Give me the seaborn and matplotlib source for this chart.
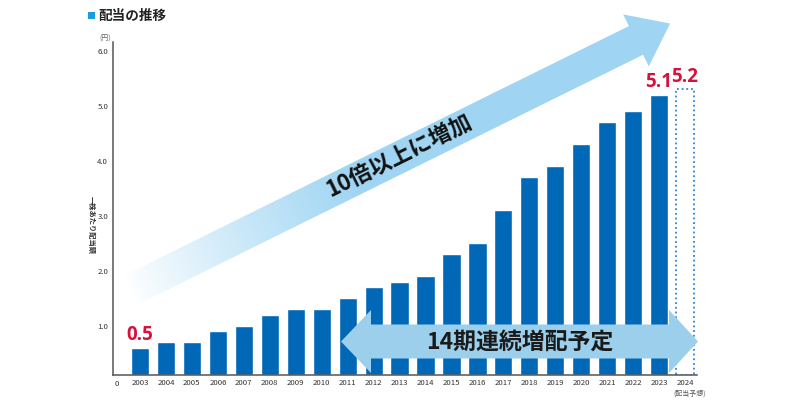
import numpy as np
import pandas as pd
import matplotlib
matplotlib.use("Agg")
import matplotlib.pyplot as plt
import matplotlib.transforms as mtransforms
from matplotlib.patches import Polygon, Rectangle
import seaborn as sns

# ---- data ----
years = [str(y) for y in range(2003, 2025)]
dividends = [0.5, 0.6, 0.6, 0.8, 0.9, 1.1, 1.2, 1.2, 1.4, 1.6, 1.7,
             1.8, 2.2, 2.4, 3.0, 3.6, 3.8, 4.2, 4.6, 4.8, 5.1, 5.2]
ytick_vals = [1, 2, 3, 4, 5, 6]
ytick_labels = ["1.0", "2.0", "3.0", "4.0", "5.0", "6.0"]
highlight = {"2003": "0.5", "2023": "5.1", "2024": "5.2"}
title = "配当の推移"
ylabel = "一株あたり配当額"
unit = "(円)"
forecast_note = "(配当予想)"
growth_text = "10倍以上に増加"
streak_text = "14期連続増配予定"

sns.set_theme(style="white")
plt.rcParams["font.family"] = ["Noto Sans CJK JP", "DejaVu Sans"]

BAR = "#0068b7"
RED = "#d4123b"
ARROW = np.array([0x9f, 0xd5, 0xf3]) / 255.0
ARROW2 = "#9ccfec"

fig = plt.figure(figsize=(8, 4), dpi=100)
ax = fig.add_axes([113 / 800, 25 / 400, (697 - 113) / 800, 332.75 / 400])

df = pd.DataFrame({"year": years, "dividend": dividends})
sns.barplot(data=df, x="year", y="dividend", order=years, color=BAR,
            saturation=1, width=0.7, errorbar=None, ax=ax, zorder=2)
# forecast bar: dotted outline only
last = ax.patches[-1]
last.set_facecolor("none")
last.set_edgecolor("#2f84d2")
last.set_linewidth(1.3)
last.set_linestyle((0, (1, 1.6)))

ax.set_xlim(-1.04, 21.46)
ax.set_ylim(0, 6.05)
ax.set_xlabel("")
ax.set_ylabel("")
for s in ["top", "right"]:
    ax.spines[s].set_visible(False)
for s in ["left", "bottom"]:
    ax.spines[s].set_color("#555555")
    ax.spines[s].set_linewidth(1.1)
ax.set_yticks(ytick_vals)
ax.set_yticklabels(ytick_labels)
ax.tick_params(axis="both", length=0, labelsize=5.6, labelcolor="#333333")
ax.tick_params(axis="y", pad=3.5)
ax.tick_params(axis="x", pad=3.0)
off = mtransforms.ScaledTranslation(0, -0.06, fig.dpi_scale_trans)
for lab in ax.get_yticklabels():
    lab.set_transform(lab.get_transform() + off)

ax.annotate("0", xy=(0, 0), xycoords="axes fraction", xytext=(3, -6.2),
            textcoords="offset points", ha="center", va="center",
            fontsize=5.6, color="#333333")
ax.annotate(forecast_note, xy=(len(years) - 1, 0), xycoords="data",
            xytext=(3, -13.5), textcoords="offset points", ha="center",
            va="center", fontsize=5, color="#555555")
ax.text(-0.0367, 0.45, ylabel, transform=ax.transAxes, rotation=270,
        ha="center", va="center", fontsize=5.2, fontweight="bold",
        color="#333333")
ax.text(-0.0137, 1.011, unit, transform=ax.transAxes, ha="center",
        va="center", fontsize=5, color="#666666")

for yr, txt in highlight.items():
    i = years.index(yr)
    ax.annotate(txt, xy=(i, dividends[i]), xytext=(0, 5.2),
                textcoords="offset points", ha="center", va="baseline",
                fontsize=13.5, fontweight="bold", color=RED,
                family=["Open Sans", "DejaVu Sans"])

# ---- overlay in pixel coordinates for decorations ----
ov = fig.add_axes([0, 0, 1, 1], zorder=5)
ov.set_xlim(0, 800)
ov.set_ylim(400, 0)
ov.axis("off")
ov.patch.set_alpha(0)

# title
ov.add_patch(Rectangle((87.5, 11.5), 7.5, 7.5, color="#1a9ce0", lw=0))
ov.text(98, 15.5, title, ha="left", va="center", fontsize=9.8,
        fontweight="bold", color="#222222")

# diagonal gradient arrow
ang = np.deg2rad(26.3)
u = np.array([np.cos(ang), -np.sin(ang)])
n = np.array([np.sin(ang), np.cos(ang)])
B = np.array([636.0, 40.4])
tip = B + 38 * u
T = B - 570 * u
hs, hh = 16, 29
poly_pts = [T + hs * n, B + hs * n, B + hh * n, tip, B - hh * n, B - hs * n,
            T - hs * n]
poly = Polygon(poly_pts, closed=True, facecolor="none", edgecolor="none")
ov.add_patch(poly)
xs = np.arange(90, 710) + 0.5
ys = np.arange(0, 330) + 0.5
X, Y = np.meshgrid(xs, ys)
t = (X - T[0]) * u[0] + (Y - T[1]) * u[1]
alpha = np.clip((t - 5) / 250.0, 0, 1) ** 0.9
img = np.zeros((len(ys), len(xs), 4))
img[..., :3] = ARROW
img[..., 3] = alpha
im = ov.imshow(img, extent=(90, 710, 330, 0), origin="upper",
               aspect="auto", interpolation="bilinear", zorder=1)
im.set_clip_path(poly)
ov.set_xlim(0, 800)
ov.set_ylim(400, 0)

ctr = B - 264 * u - 2 * n
ov.text(ctr[0], ctr[1], growth_text, rotation=26.3, rotation_mode="anchor",
        ha="center", va="center", fontsize=16, fontweight="bold",
        color="#111111", zorder=3)

# horizontal double arrow
y0 = 341.5
dpts = [(341, y0), (371, 310), (371, 324.5), (669, 324.5), (669, 310),
        (698, y0), (669, 373), (669, 358.5), (371, 358.5), (371, 373)]
ov.add_patch(Polygon(dpts, closed=True, facecolor=ARROW2, edgecolor="none",
                     zorder=2))
ov.text(520, y0 + 0.5, streak_text, ha="center", va="center", fontsize=16.5,
        fontweight="bold", color="#1a1a1a", zorder=3)

fig.savefig("out.png", dpi=100)
